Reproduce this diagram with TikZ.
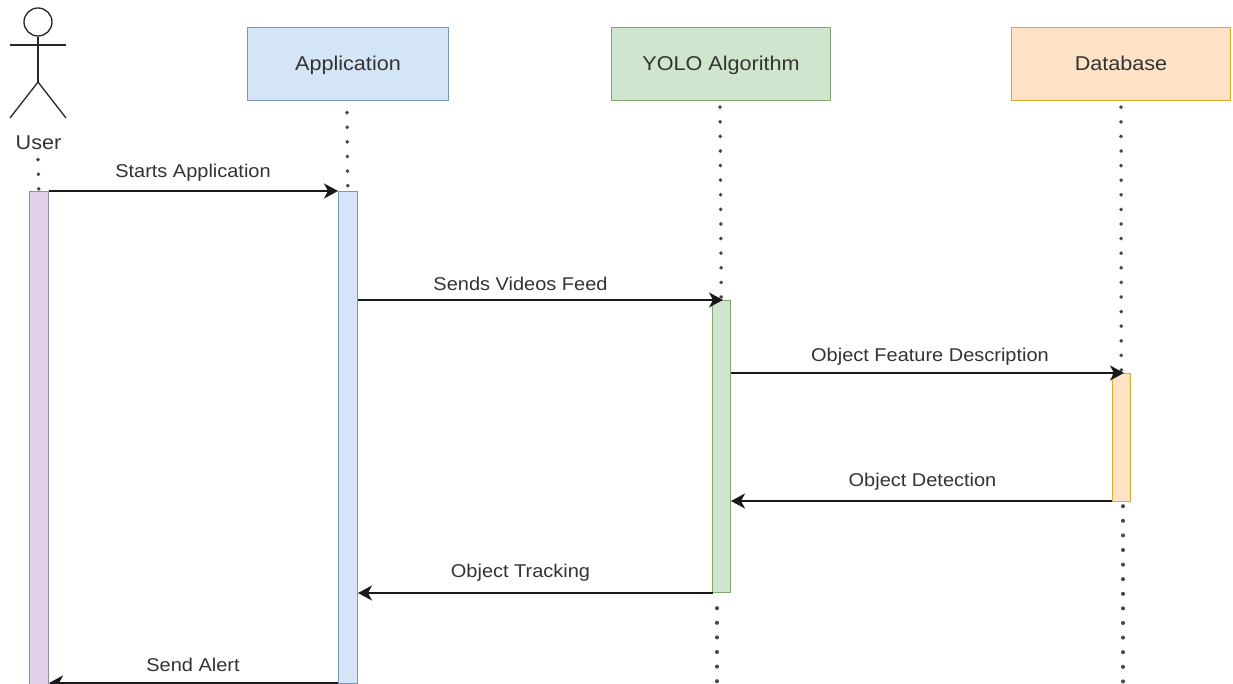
\documentclass[tikz,border=0pt]{standalone}
\usepackage{fontspec}
\setmainfont[FakeStretch=1.08]{Liberation Sans}
\usetikzlibrary{arrows.meta,calc}
\definecolor{txt}{HTML}{333333}
\definecolor{bluef}{HTML}{D5E5F8}
\definecolor{blued}{HTML}{7C96B8}
\definecolor{greenf}{HTML}{D0E5CE}
\definecolor{greend}{HTML}{82A870}
\definecolor{orangef}{HTML}{FDE2C6}
\definecolor{oranged}{HTML}{DDAA30}
\definecolor{purplef}{HTML}{E1D0E7}
\definecolor{purpled}{HTML}{9A8AA6}
\tikzset{
  x=1pt,y=-1pt,
  header/.style={draw=#1,line width=1pt,minimum height=73pt,inner sep=0pt,anchor=north west,font=\fontsize{20}{24}\selectfont,text=txt,text height=16.5pt,text depth=4pt},
  activation/.style={draw=#1,line width=1pt,minimum width=18.5pt,inner sep=0pt,anchor=north west},
  lifeline/.style={line width=3.6pt,line cap=round,dash pattern=on 0.4pt off 14.2pt,color=black!72},
  message/.style={line width=1.5pt,color=black!90,-{Stealth[length=14pt,width=15pt,inset=4pt]}},
  msglabel/.style={font=\fontsize{18.5}{22}\selectfont,text=txt,inner sep=0pt},
  actorline/.style={line width=1.3pt,color=black!85}
}
\begin{document}
\begin{tikzpicture}
\useasboundingbox[fill=white] (0,0) rectangle (1233,684);
% headers
\node[header=blued,fill=bluef,minimum width=201pt] (app) at (247,27) {Application};
\node[header=greend,fill=greenf,minimum width=219pt] (yolo) at (611,27) {YOLO Algorithm};
\node[header=oranged,fill=orangef,minimum width=219pt] (db) at (1011,27) {Database};
% actor
\node[circle,draw=black!85,line width=1.3pt,minimum size=28pt,inner sep=0pt] (head) at (38,22) {};
\coordinate (armL) at (10,45);
\coordinate (armR) at (66,45);
\coordinate (hip) at (38,82);
\coordinate (legL) at (10,118);
\coordinate (legR) at (66,118);
\draw[actorline] (head.south) -- (hip);
\draw[actorline] (armL) -- (armR);
\draw[actorline] (legL) -- (hip) -- (legR);
\node[font=\fontsize{20}{24}\selectfont,text=txt,inner sep=0pt] (user) at (38.5,143) {User};
% activations
\node[activation=purpled,fill=purplef,minimum height=493pt] (uA) at (29,191) {};
\node[activation=blued,fill=bluef,minimum height=492pt] (aA) at (338,191) {};
\node[activation=greend,fill=greenf,minimum height=292pt] (yA) at (711.5,300) {};
\node[activation=oranged,fill=orangef,minimum height=128pt] (dA) at (1111.5,373) {};
% lifelines
\coordinate (uS) at (38,159.5);
\coordinate (aS) at (347,112.5);
\coordinate (yS) at (720,107);
\coordinate (dS) at (1121,107);
\coordinate (yE1) at (717,608);
\coordinate (yE2) at (717,684);
\coordinate (dE1) at (1123,506);
\coordinate (dE2) at (1123,684);
\draw[lifeline] (uS) -- (uA.north);
\draw[lifeline] (aS) -- (aA.north);
\draw[lifeline] (yS) -- (yA.north);
\draw[lifeline] (dS) -- (dA.north);
\draw[lifeline] (yE1) -- (yE2);
\draw[lifeline] (dE1) -- (dE2);
% messages
\coordinate (t1) at (338,191);
\coordinate (t2) at (723,300);
\coordinate (t3) at (1124,373);
\coordinate (t4) at (731,501);
\coordinate (s5) at (713,593);
\coordinate (t5) at (358,593);
\coordinate (s6) at (338,683);
\coordinate (t6) at (49,683);
\draw[message] (uA.north east) -- (t1);
\draw[message] (aA.east |- t2) -- (t2);
\draw[message] (yA.east |- t3) -- (t3);
\draw[message] (dA.west |- t4) -- (t4);
\draw[message] (s5) -- (t5);
\draw[message] (s6) -- (t6);
% labels
\node[msglabel] (l1) at (193,172.5) {Starts Application};
\node[msglabel] (l2) at (520.5,284) {Sends Videos Feed};
\node[msglabel] (l3) at (930,357) {Object Feature Description};
\node[msglabel] (l4) at (922.5,482) {Object Detection};
\node[msglabel] (l5) at (520.5,573) {Object Tracking};
\node[msglabel] (l6) at (193,664.5) {Send Alert};
\end{tikzpicture}
\end{document}
